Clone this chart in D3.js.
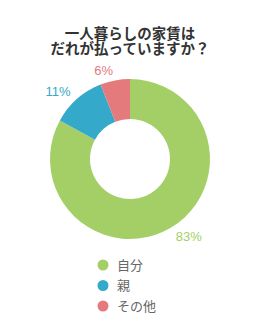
<!DOCTYPE html>
<html>
<head>
<meta charset="utf-8">
<script src="https://cdn.jsdelivr.net/npm/d3@7"></script>
<style>
  body { margin: 0; background: #fff; }
  text { font-family: "Noto Sans CJK JP", "Noto Sans", sans-serif; }
  text.pct { font-family: "Liberation Sans", Arial, sans-serif; }
</style>
</head>
<body>
<svg id="chart" width="260" height="320"></svg>
<script>
var titleLines = ["一人暮らしの家賃は", "だれが払っていますか？"];
var categories = ["自分", "親", "その他"];
var values = [83, 11, 6];
var colors = ["#a4cf66", "#35a9ca", "#e47a7c"];

var width = 260, height = 320;
var cx = 130, cy = 159;
var outerR = 80, innerR = 40, labelR = 90;

var svg = d3.select("#chart");

// title, two lines
svg.selectAll("text.title")
    .data(titleLines)
    .enter().append("text")
    .attr("class", "title")
    .attr("x", width / 2)
    .attr("y", (d, i) => 39 + i * 15)
    .attr("text-anchor", "middle")
    .attr("font-size", 14.5)
    .attr("font-weight", "bold")
    .attr("fill", "#333")
    .text(d => d);

var color = d3.scaleOrdinal().domain(categories).range(colors);

var pie = d3.pie().sort(null).value(d => d.value);
var data = categories.map((c, i) => ({ name: c, value: values[i] }));
var arcs = pie(data);

var arc = d3.arc().innerRadius(innerR).outerRadius(outerR);

var g = svg.append("g").attr("transform", "translate(" + cx + "," + cy + ")");

g.selectAll("path")
    .data(arcs)
    .enter().append("path")
    .attr("d", arc)
    .attr("fill", d => color(d.data.name));

// percent labels outside the ring
g.selectAll("text.pct")
    .data(arcs)
    .enter().append("text")
    .attr("class", "pct")
    .attr("x", d => labelR * Math.sin((d.startAngle + d.endAngle) / 2))
    .attr("y", d => -labelR * Math.cos((d.startAngle + d.endAngle) / 2))
    .attr("dy", "0.35em")
    .attr("text-anchor", d => (d.startAngle + d.endAngle) / 2 > Math.PI ? "end" : "start")
    .attr("font-size", 13)
    .attr("fill", d => color(d.data.name))
    .text(d => d.data.value + "%");

// legend
var legend = svg.append("g").attr("transform", "translate(103,265)");
var item = legend.selectAll("g")
    .data(categories)
    .enter().append("g")
    .attr("transform", (d, i) => "translate(0," + i * 20.5 + ")");
item.append("circle")
    .attr("r", 5.5)
    .attr("fill", d => color(d));
item.append("text")
    .attr("x", 14)
    .attr("dy", "0.35em")
    .attr("font-size", 13)
    .attr("fill", "#666")
    .text(d => d);
</script>
</body>
</html>
